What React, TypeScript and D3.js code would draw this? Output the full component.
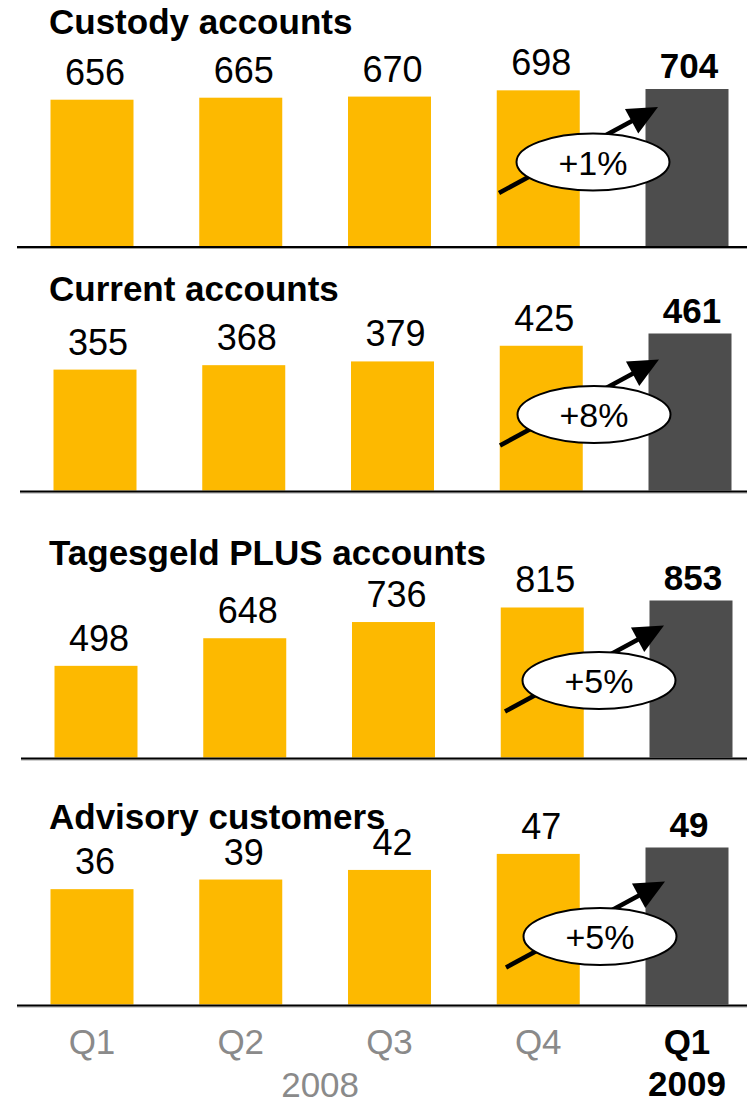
import React from "react";
import * as d3 from "d3";

// ---------- data ----------
const quarters = ["Q1 2008", "Q2 2008", "Q3 2008", "Q4 2008", "Q1 2009"];
const quarterLabels = ["Q1", "Q2", "Q3", "Q4", "Q1"];
const yearLabels = ["2008", "2009"];
const panelTitles = ["Custody accounts", "Current accounts", "Tagesgeld PLUS accounts", "Advisory customers"];
const custody = [656, 665, 670, 698, 704];
const current = [355, 368, 379, 425, 461];
const tagesgeld = [498, 648, 736, 815, 853];
const advisory = [36, 39, 42, 47, 49];
const growthLabels = ["+1%", "+8%", "+5%", "+5%"];
const seriesList = [custody, current, tagesgeld, advisory];

// ---------- layout ----------
const W = 747;
const H = 1110;
const FONT = "'Liberation Sans', Arial, Helvetica, sans-serif";
const YELLOW = "#FDB900";
const DARK = "#4D4D4D";
const GREY = "#8A8A8A";
const MAX_BAR_H = 157;
const BAR_W = 83;
const panelLayout = [
  { baseline: 246, titleY: 34.3, axisX0: 17, dx: 0, ellX: 593, ellUp: 84 },
  { baseline: 490.5, titleY: 301, axisX0: 20, dx: 3, ellX: 594, ellUp: 76 },
  { baseline: 757.5, titleY: 565, axisX0: 21, dx: 4, ellX: 599, ellUp: 77 },
  { baseline: 1004.5, titleY: 829, axisX0: 17, dx: 0, ellX: 600, ellUp: 68 },
];

const x = d3.scalePoint<string>().domain(quarters).range([92, 687]);

function Panel({ idx }: { idx: number }) {
  const values = seriesList[idx];
  const L = panelLayout[idx];
  const y = d3
    .scaleLinear()
    .domain([0, d3.max(values) as number])
    .range([L.baseline, L.baseline - MAX_BAR_H]);
  const last = quarters.length - 1;

  // annotation geometry
  const cx = L.ellX;
  const cy = L.baseline - L.ellUp;
  const start: [number, number] = [cx - 94, cy + 31];
  const tip: [number, number] = [cx + 65, cy - 55];
  const vx = tip[0] - start[0];
  const vy = tip[1] - start[1];
  const len = Math.hypot(vx, vy);
  const ux = vx / len;
  const uy = vy / len;
  const nx = -uy;
  const ny = ux;
  const headLen = 30;
  const headHalf = 14;
  const base: [number, number] = [tip[0] - ux * headLen, tip[1] - uy * headLen];
  const head = [
    tip,
    [base[0] + nx * headHalf, base[1] + ny * headHalf],
    [base[0] - nx * headHalf, base[1] - ny * headHalf],
  ];
  const line = d3.line();

  return (
    <g>
      <text x={49} y={L.titleY} fontFamily={FONT} fontWeight="bold" fontSize={35} fill="#000">
        {panelTitles[idx]}
      </text>
      {values.map((v, i) => {
        const cxBar = (x(quarters[i]) as number) + L.dx;
        const isLast = i === last;
        return (
          <g key={i}>
            <rect
              x={cxBar - BAR_W / 2}
              y={y(v)}
              width={BAR_W}
              height={L.baseline - y(v)}
              fill={isLast ? DARK : YELLOW}
            />
            <text
              x={cxBar + (isLast ? 2 : 3)}
              y={y(v) - (isLast ? 11 : 15)}
              textAnchor="middle"
              fontFamily={FONT}
              fontWeight={isLast ? "bold" : "normal"}
              fontSize={isLast ? 35 : 36}
              fill="#000"
            >
              {v}
            </text>
          </g>
        );
      })}
      <line x1={L.axisX0} x2={W} y1={L.baseline + 2.5} y2={L.baseline + 2.5} stroke="#A0A0A0" strokeWidth={1} />
      <line x1={L.axisX0} x2={W} y1={L.baseline + 1} y2={L.baseline + 1} stroke="#000" strokeWidth={2} />
      {/* growth arrow */}
      <path d={line([start, [base[0] + ux * 2, base[1] + uy * 2]]) as string} stroke="#000" strokeWidth={4.5} fill="none" />
      <path d={(line(head as [number, number][]) as string) + "Z"} fill="#000" />
      <ellipse cx={cx} cy={cy} rx={76.5} ry={28.5} fill="#fff" stroke="#000" strokeWidth={2} />
      <text x={cx} y={cy + 12.5} textAnchor="middle" fontFamily={FONT} fontSize={34} fill="#000">
        {growthLabels[idx]}
      </text>
    </g>
  );
}

export default function App() {
  const last = quarters.length - 1;
  const yearCenter = ((x(quarters[0]) as number) + (x(quarters[3]) as number)) / 2 + 5;
  return (
    <div style={{ position: "absolute", left: 0, top: 0 }}>
      <svg width={W} height={H} viewBox={`0 0 ${W} ${H}`} style={{ display: "block", background: "#fff" }}>
        <rect x={0} y={0} width={W} height={H} fill="#fff" />
        {seriesList.map((_, i) => (
          <Panel key={i} idx={i} />
        ))}
        {quarters.map((q, i) => (
          <text
            key={q}
            x={x(q) as number}
            y={1054}
            textAnchor="middle"
            fontFamily={FONT}
            fontSize={35}
            fontWeight={i === last ? "bold" : "normal"}
            fill={i === last ? "#000" : GREY}
          >
            {quarterLabels[i]}
          </text>
        ))}
        <text x={yearCenter} y={1096.5} textAnchor="middle" fontFamily={FONT} fontSize={35} fill={GREY}>
          {yearLabels[0]}
        </text>
        <text
          x={x(quarters[last]) as number}
          y={1096}
          textAnchor="middle"
          fontFamily={FONT}
          fontSize={35}
          fontWeight="bold"
          fill="#000"
        >
          {yearLabels[1]}
        </text>
      </svg>
    </div>
  );
}
